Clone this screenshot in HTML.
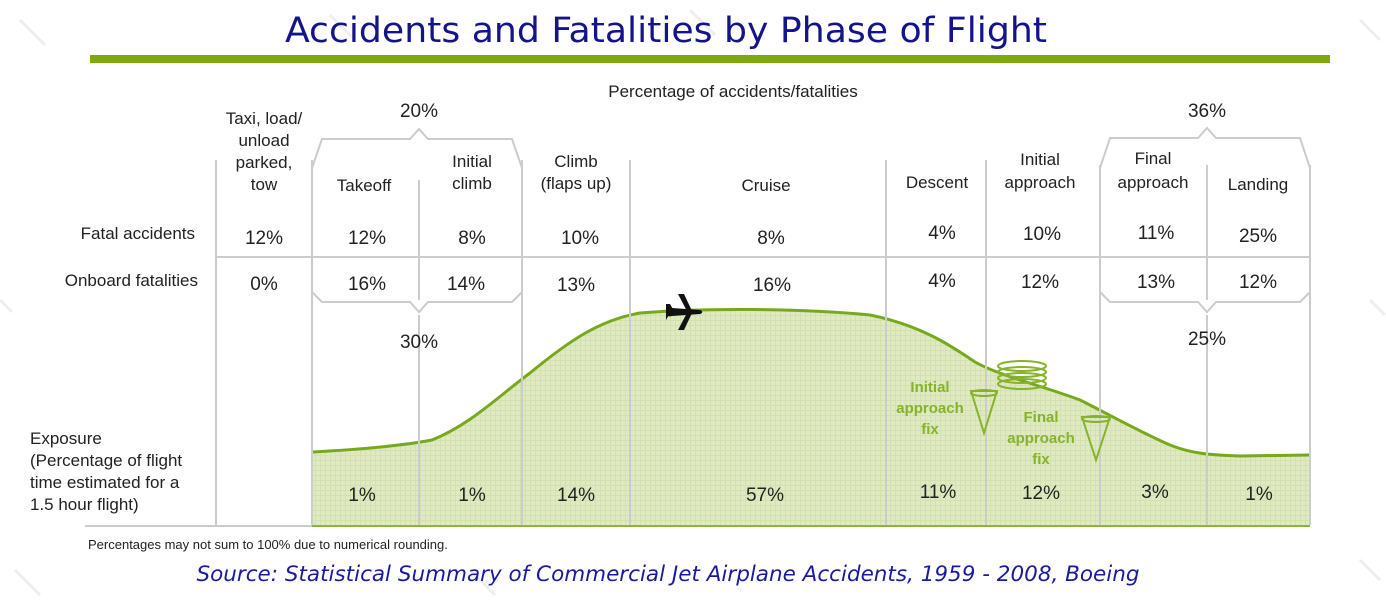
<!DOCTYPE html>
<html><head><meta charset="utf-8"><style>
body{margin:0;background:#fff;}
svg{display:block;font-family:"Liberation Sans",Arial,sans-serif;}
</style></head><body>
<svg width="1386" height="606" viewBox="0 0 1386 606" xmlns="http://www.w3.org/2000/svg">
<defs>
<pattern id="g" width="5" height="5" patternUnits="userSpaceOnUse">
<rect width="5" height="5" fill="#dfeac2"/>
<path d="M0 0.5H5M0.5 0V5" stroke="#d3e0b0" stroke-width="1"/>
</pattern>
</defs>
<g stroke="#eeeeee" stroke-width="3">
<path d="M20 20L45 45M330 15L355 40M690 10L715 35M1360 20L1380 40M1360 560L1380 580M15 570L40 595M470 570L495 595M1370 300L1385 315M0 300L12 312"/>
</g>
<text x="666" y="42" text-anchor="middle" font-size="35" fill="#14148a" font-family="'DejaVu Sans Condensed','Liberation Sans Narrow','Liberation Sans',sans-serif" textLength="762" lengthAdjust="spacingAndGlyphs">Accidents and Fatalities by Phase of Flight</text>
<rect x="90" y="55" width="1240" height="8" fill="#7daa08"/>
<path d="M312 525V452C350 450 395 447 432 440C470 425 500 395 530 373C570 340 600 320 640 313C700 308 800 308 870 315C920 325 950 345 975 362C1000 376 1040 385 1080 400C1110 415 1140 432 1170 445C1190 453 1207 455 1240 456L1310 455V525Z" fill="url(#g)"/>
<path d="M312 452C350 450 395 447 432 440C470 425 500 395 530 373C570 340 600 320 640 313C700 308 800 308 870 315C920 325 950 345 975 362C1000 376 1040 385 1080 400C1110 415 1140 432 1170 445C1190 453 1207 455 1240 456L1310 455" fill="none" stroke="#78a81e" stroke-width="3"/>
<g stroke="#cccccc" stroke-width="2" fill="none">
<path d="M216 160V525M312 160V525M419 180V300M419 315V525M522 160V525M630 160V525M886 160V525M986 160V525M1100 165V525M1207 165V300M1207 315V525M1310 165V525"/>
<path d="M216 257H1310"/>
<path d="M85 526H312"/>
<path d="M312 168L322 139H410L419 129L428 139H512L522 168"/>
<path d="M312 292L322 302H410L419 312L428 302H512L522 292"/>
<path d="M1100 168L1110 138H1198L1207 128L1216 138H1300L1310 168"/>
<path d="M1100 292L1110 302H1198L1207 312L1216 302H1300L1310 292"/>
</g>
<path d="M312 526H1310" stroke="#8ab53a" stroke-width="2"/>
<g font-size="17" fill="#222" text-anchor="middle">
<text x="733" y="97">Percentage of accidents/fatalities</text>
<text x="419" y="117" font-size="19">20%</text>
<text x="1207" y="117" font-size="19">36%</text>
<text x="264" y="124">Taxi, load/</text><text x="264" y="146">unload</text><text x="264" y="168">parked,</text><text x="264" y="190">tow</text>
<text x="364" y="191">Takeoff</text>
<text x="472" y="167">Initial</text><text x="472" y="189">climb</text>
<text x="576" y="167">Climb</text><text x="576" y="189">(flaps up)</text>
<text x="766" y="191">Cruise</text>
<text x="937" y="188">Descent</text>
<text x="1040" y="165">Initial</text><text x="1040" y="188">approach</text>
<text x="1153" y="164">Final</text><text x="1153" y="188">approach</text>
<text x="1258" y="190">Landing</text>
<g font-size="19">
<text x="264" y="244">12%</text><text x="367" y="244">12%</text><text x="472" y="244">8%</text><text x="580" y="244">10%</text><text x="771" y="244">8%</text><text x="942" y="239">4%</text><text x="1042" y="240">10%</text><text x="1156" y="239">11%</text><text x="1258" y="242">25%</text>
<text x="264" y="290">0%</text><text x="367" y="290">16%</text><text x="466" y="290">14%</text><text x="576" y="291">13%</text><text x="772" y="291">16%</text><text x="942" y="287">4%</text><text x="1040" y="288">12%</text><text x="1156" y="288">13%</text><text x="1258" y="288">12%</text>
<text x="419" y="348">30%</text><text x="1207" y="345">25%</text>
<text x="362" y="501">1%</text><text x="472" y="501">1%</text><text x="576" y="501">14%</text><text x="765" y="501">57%</text><text x="938" y="498">11%</text><text x="1041" y="499">12%</text><text x="1155" y="498">3%</text><text x="1259" y="500">1%</text>
</g>
</g>
<g font-size="17" fill="#222">
<text x="195" y="239" text-anchor="end">Fatal accidents</text>
<text x="198" y="286" text-anchor="end">Onboard fatalities</text>
<text x="30" y="444">Exposure</text>
<text x="30" y="466">(Percentage of flight</text>
<text x="30" y="488">time estimated for a</text>
<text x="30" y="510">1.5 hour flight)</text>
</g>
<text x="88" y="549" font-size="13" fill="#222">Percentages may not sum to 100% due to numerical rounding.</text>
<text x="668" y="581" text-anchor="middle" font-size="21" font-style="italic" fill="#1a1aa0" font-family="'DejaVu Sans','Liberation Sans',sans-serif" textLength="943" lengthAdjust="spacingAndGlyphs">Source: Statistical Summary of Commercial Jet Airplane Accidents, 1959 - 2008, Boeing</text>
<g font-size="15" font-weight="bold" fill="#86b32a" text-anchor="middle">
<text x="930" y="392">Initial</text><text x="930" y="413">approach</text><text x="930" y="434">fix</text>
<text x="1041" y="422">Final</text><text x="1041" y="443">approach</text><text x="1041" y="464">fix</text>
</g>
<g fill="none" stroke="#86b32a" stroke-width="2">
<path d="M971 391L984 433L997 391Z"/><ellipse cx="984" cy="393" rx="13" ry="3"/>
<path d="M1082 417L1096 460L1110 417Z"/><ellipse cx="1096" cy="419" rx="14" ry="3"/>
<ellipse cx="1022" cy="366" rx="24" ry="5"/><ellipse cx="1022" cy="372" rx="24" ry="5"/><ellipse cx="1022" cy="378" rx="24" ry="5"/><ellipse cx="1022" cy="384" rx="24" ry="5"/>
</g>
<g fill="#111">
<path d="M667 310C667 308 669 307 672 308L700 310C703 311 703 313 700 314L672 316C669 317 667 316 667 314Z"/>
<path d="M678 294L684 294L692 311L688 313Z"/>
<path d="M688 311L692 313L684 330L678 330Z"/>
<path d="M666 304L670 304L674 311L670 313L666 320Z" />
</g>
</svg>
</body></html>
